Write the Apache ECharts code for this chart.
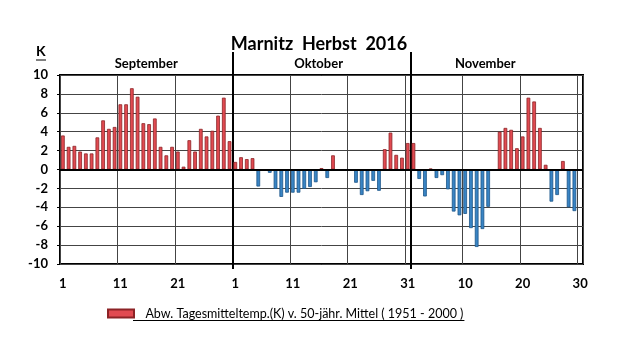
<!DOCTYPE html>
<html>
<head>
<meta charset="utf-8">
<script src="https://cdn.jsdelivr.net/npm/echarts@6/dist/echarts.min.js"></script>
<style>
  html, body { margin: 0; padding: 0; background: #fff; }
  #chart { width: 628px; height: 354px; }
</style>
</head>
<body>
<div id="chart"></div>
<script>
// Abweichung Tagesmitteltemperatur (K), Herbst 2016
const monthNames = ["September", "Oktober", "November"];
const monthLengths = [30, 31, 30];
const monthLabelAt = [15, 45, 74];

const sepDev = [3.6, 2.4, 2.5, 1.9, 1.7, 1.7, 3.4, 5.2, 4.3, 4.5,
  6.9, 6.9, 8.6, 7.7, 4.9, 4.8, 5.4, 2.4, 1.5, 2.4,
  1.9, 0.3, 3.1, 1.9, 4.3, 3.5, 4.1, 5.7, 7.6, 3.0];
const octDev = [0.8, 1.3, 1.1, 1.2, -1.8, 0, -0.35, -2.05, -2.9, -2.45,
  -2.45, -2.45, -2.05, -1.85, -1.35, 0.15, -0.9, 1.5, 0, 0,
  -0.1, -1.4, -2.7, -2.3, -1.2, -2.25, 2.15, 3.9, 1.55, 1.25, 2.8];
const novDev = [2.8, -1.0, -2.85, 0.1, -0.9, -0.6, -2.1, -4.45, -4.85, -4.7,
  -6.2, -8.2, -6.3, -3.95, 0, 4.0, 4.4, 4.2, 2.25, 3.5,
  7.6, 7.2, 4.4, 0.5, -3.4, -2.7, 0.9, -4.0, -4.4, 0];

const seriesName = "Abw. Tagesmitteltemp.(K) v. 50-jähr. Mittel ( 1951 - 2000 )";

const values = sepDev.concat(octDev, novDev);

// day labels 1..n per month
const days = [];
monthLengths.forEach(function (n) {
  for (let d = 1; d <= n; d++) days.push(String(d));
});
// slot boundaries 0..91 for month separators
const bounds = [];
for (let i = 0; i <= days.length; i++) bounds.push(i);
const monthStarts = [];
let acc = 0;
monthLengths.forEach(function (n) { monthStarts.push(acc); acc += n; });

const isSep = function (i) { return i > 0 && monthStarts.indexOf(i) >= 0; };

const font = "Lato";
const legendSize = 12.5;
const red = { color: "#e14a51", borderColor: "#8c2326", borderWidth: 0.8 };
const blue = { color: "#3984c4", borderColor: "#1c5689", borderWidth: 0.8 };

const chart = echarts.init(document.getElementById("chart"));

chart.setOption({
  animation: false,
  backgroundColor: "#fff",
  textStyle: { fontFamily: font, color: "#000" },
  title: {
    text: "Marnitz  Herbst  2016",
    left: 319,
    top: 35,
    padding: 0,
    textAlign: "center",
    textStyle: { fontFamily: font, fontSize: 18, fontWeight: "bold", color: "#000" }
  },
  legend: {
    left: 102,
    top: 302,
    itemWidth: 26,
    itemHeight: 8,
    selectedMode: false,
    formatter: function (name) { return "  " + name; },
    textStyle: { fontFamily: font, fontSize: legendSize, color: "#000" },
    data: [{ name: seriesName, icon: "rect" }]
  },
  grid: {
    left: 60,
    top: 75,
    width: 523,
    height: 189,
    show: true,
    borderColor: "#000",
    borderWidth: 2
  },
  xAxis: [
    {
      type: "category",
      data: days,
      position: "bottom",
      boundaryGap: true,
      axisLine: { show: false },
      axisTick: { show: false },
      axisLabel: {
        interval: function (i) { return i % 10 === 0; },
        margin: 13,
        fontFamily: font,
        fontSize: 13,
        fontWeight: "bold",
        color: "#000"
      },
      splitLine: {
        show: true,
        interval: function (i) { return i % 10 === 0; },
        lineStyle: { color: "#444", width: 1 }
      }
    },
    {
      type: "category",
      data: bounds,
      position: "top",
      boundaryGap: false,
      axisLine: { show: false },
      axisTick: {
        show: true,
        interval: function (i) { return isSep(i); },
        length: 23,
        lineStyle: { color: "#000", width: 2 }
      },
      axisLabel: {
        interval: function (i) { return monthLabelAt.indexOf(i) >= 0; },
        formatter: function (v, i) { return monthNames[monthLabelAt.indexOf(i)] || ""; },
        margin: 5,
        fontFamily: font,
        fontSize: 13,
        fontWeight: "bold",
        color: "#000"
      },
      splitLine: {
        show: true,
        interval: function (i) { return isSep(i); },
        lineStyle: { color: "#000", width: 2 }
      }
    },
    {
      type: "category",
      data: bounds,
      position: "bottom",
      boundaryGap: false,
      axisLine: { show: false },
      axisLabel: { show: false },
      splitLine: { show: false },
      axisTick: {
        show: true,
        interval: function (i) { return isSep(i); },
        length: 5,
        lineStyle: { color: "#000", width: 2 }
      }
    }
  ],
  yAxis: {
    type: "value",
    min: -10,
    max: 10,
    interval: 2,
    axisLine: { show: false },
    axisTick: { show: true, length: 3, lineStyle: { color: "#000" } },
    axisLabel: {
      margin: 12,
      fontFamily: font,
      fontSize: 13,
      fontWeight: "bold",
      color: "#000"
    },
    splitLine: { lineStyle: { color: "#444", width: 1 } }
  },
  series: [
    {
      name: seriesName,
      type: "bar",
      xAxisIndex: 0,
      barWidth: 3.7,
      itemStyle: red,
      data: values.map(function (v) {
        return { value: v, itemStyle: v >= 0 ? red : blue };
      }),
      markLine: {
        silent: true,
        symbol: "none",
        label: { show: false },
        lineStyle: { color: "#000", width: 2, type: "solid" },
        data: [{ yAxis: 0 }]
      }
    }
  ]
});

// underline for the legend text and the unit "K"
const ctx = document.createElement("canvas").getContext("2d");
ctx.font = legendSize + "px " + font;
const legendW = ctx.measureText("  " + seriesName).width + 7;
const lx = 102 + 26 + 5;

chart.setOption({
  graphic: [
    {
      type: "text",
      left: 36,
      top: 44,
      style: { text: "K", font: "bold 14px " + font, fill: "#000" }
    },
    {
      type: "line",
      shape: { x1: 36, y1: 60, x2: 46, y2: 60 },
      style: { stroke: "#000", lineWidth: 1 }
    },
    {
      type: "line",
      shape: { x1: lx, y1: 320.5, x2: lx + legendW, y2: 320.5 },
      style: { stroke: "#000", lineWidth: 1 }
    }
  ]
});
</script>
</body>
</html>
